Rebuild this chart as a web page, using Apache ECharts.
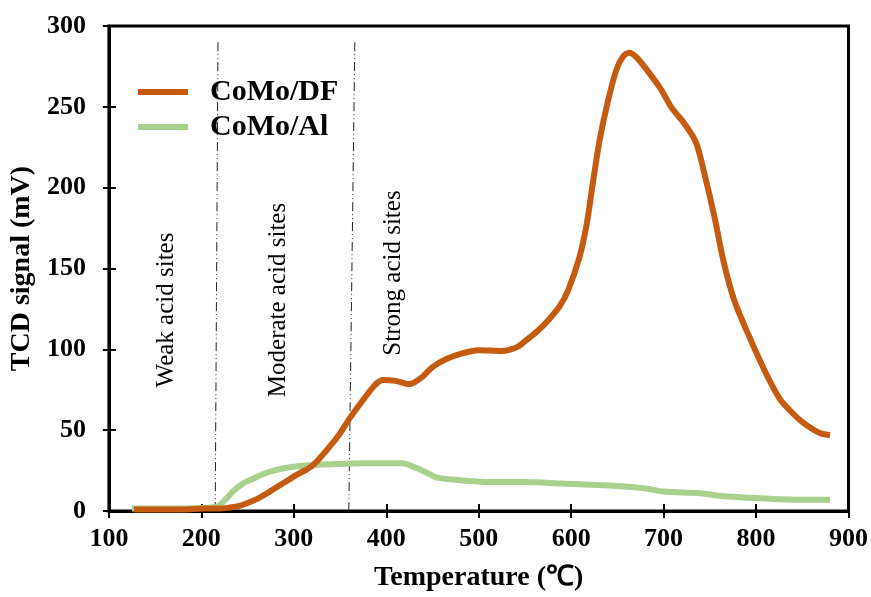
<!DOCTYPE html>
<html>
<head>
<meta charset="utf-8">
<script src="https://cdn.jsdelivr.net/npm/echarts@6/dist/echarts.min.js"></script>
<style>html,body{margin:0;padding:0;background:#fff}#c{width:871px;height:597px}</style>
</head>
<body>
<div id="c"></div>
<script>
// Temperature (°C) / signal (mV) pairs
var comoDF = [
  [127,1],[150,1],[180,1],[205,1.5],[220,1.5],[229,2],[240,3],[248,4.5],[262,8],[274,12],[288,17],[302,22],[320,28],
  [339,40],[350,48],[360,57],[378,71],[388,78],[396,81],[410,80.5],[425,78.5],[437,82],[450,89],[465,94],[482,97.5],
  [500,99.5],[525,99],[540,101],[550,105],[563,111],[576,118.5],[588,127],[597,137],[609,157],[617,178],[624,205],
  [631,230],[640,254],[649,273],[656,281],[663,283.5],[670,281],[679,275],[697,261],[708,250],[722,240],[735,228],
  [744,209],[755,182],[765,154],[776,131],[791,110],[810,86],[826,69],[837,62],[848,56],[860,51],[870,48],[880,47]
];
var comoAl = [
  [125,1.5],[150,1.5],[180,1.5],[205,2],[218,3],[226,7],[234,12],[245,17],[256,20],[270,23.5],[285,26],[310,28],
  [345,29],[380,29.5],[417,29.5],[431,27],[443,24],[453,21],[471,19.5],[507,18],[550,18],[590,17],
  [650,15.5],[680,14],[700,12],[740,11],[760,9.5],[800,8],[850,7],[880,7]
];
// Region divider lines (slightly slanted in the original)
var divider1 = [[218,290],[215,0]];
var divider2 = [[366,290],[359.5,0]];
var regionLabels = ['Weak acid sites','Moderate acid sites','Strong acid sites'];
var regionLabelPos = [[166,310],[278,300],[393,273]];
var xTicks = {min:100,max:900,interval:100};
var yTicks = {min:0,max:300,interval:50};

var FONT = 'Liberation Serif';
var chart = echarts.init(document.getElementById('c'));
var dash = [9,3,1,3,1,3];
chart.setOption({
  animation:false,
  grid:{left:105,right:22,top:26,bottom:85,show:true,borderColor:'#000',borderWidth:3},
  legend:{
    orient:'vertical',left:138,top:77,padding:0,itemGap:5,itemWidth:50,itemHeight:6,icon:'rect',
    data:['CoMo/DF','CoMo/Al'],
    textStyle:{fontFamily:FONT,fontWeight:'bold',fontSize:30,color:'#000',padding:[0,0,0,17]}
  },
  xAxis:[{
    type:'value',min:xTicks.min,max:xTicks.max,interval:xTicks.interval,
    name:'Temperature (\u2103)',nameLocation:'middle',nameGap:53,
    nameTextStyle:{fontFamily:FONT,fontWeight:'bold',fontSize:28,color:'#000'},
    axisLine:{lineStyle:{color:'#000',width:3}},
    axisTick:{inside:false,length:7,lineStyle:{color:'#000',width:2}},
    axisLabel:{fontFamily:FONT,fontWeight:'bold',fontSize:26,color:'#000',margin:15},
    splitLine:{show:false}
  },{
    type:'value',min:xTicks.min,max:xTicks.max,interval:xTicks.interval,position:'bottom',
    axisLine:{show:false},axisTick:{inside:true,length:7,lineStyle:{color:'#000',width:2}},
    axisLabel:{show:false},splitLine:{show:false}
  }],
  yAxis:[{
    type:'value',min:yTicks.min,max:yTicks.max,interval:yTicks.interval,
    name:'TCD signal (mV)',nameLocation:'middle',nameGap:69,nameRotate:90,
    nameTextStyle:{fontFamily:FONT,fontWeight:'bold',fontSize:28,color:'#000'},
    axisLine:{lineStyle:{color:'#000',width:3}},
    axisTick:{inside:false,length:6,lineStyle:{color:'#000',width:2}},
    axisLabel:{fontFamily:FONT,fontWeight:'bold',fontSize:26,color:'#000',margin:23},
    splitLine:{show:false}
  },{
    type:'value',min:yTicks.min,max:yTicks.max,interval:yTicks.interval,position:'left',
    axisLine:{show:false},axisTick:{inside:true,length:7,lineStyle:{color:'#000',width:2}},
    axisLabel:{show:false},splitLine:{show:false}
  }],
  series:[
    {type:'line',name:'divA',data:divider1,symbol:'none',silent:true,
     lineStyle:{color:'#222',width:1,type:dash}},
    {type:'line',name:'divB',data:divider2,symbol:'none',silent:true,
     lineStyle:{color:'#222',width:1,type:dash}},
    {type:'line',name:'CoMo/Al',data:comoAl,symbol:'none',smooth:0.3,
     color:'#A9D18E',lineStyle:{color:'#A9D18E',width:6}},
    {type:'line',name:'CoMo/DF',data:comoDF,symbol:'none',smooth:0.3,
     color:'#C55A11',lineStyle:{color:'#C55A11',width:6}}
  ],
  graphic: regionLabels.map(function(t,i){
    return {type:'text',x:regionLabelPos[i][0],y:regionLabelPos[i][1],rotation:Math.PI/2,
      style:{text:t,fontFamily:FONT,fontSize:25,fill:'#000',align:'center',verticalAlign:'middle'}};
  })
});
</script>
</body>
</html>
